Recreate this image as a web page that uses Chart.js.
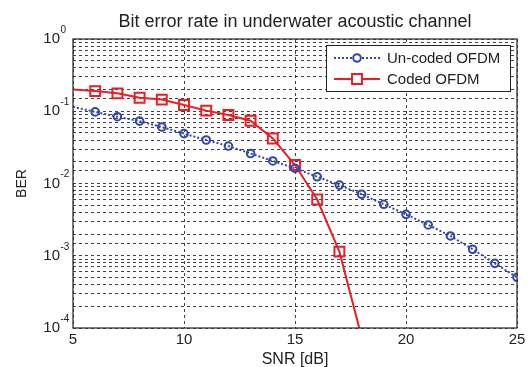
<!DOCTYPE html>
<html>
<head>
<meta charset="utf-8">
<script src="https://cdn.jsdelivr.net/npm/chart.js@4.4.1/dist/chart.umd.min.js"></script>
<style>
  html, body { margin: 0; padding: 0; background: #fff; }
  #wrap { width: 529px; height: 367px; }
</style>
</head>
<body>
<div id="wrap"><canvas id="ber-chart"></canvas></div>
<script>
// SNR values in dB
const snr = [5, 6, 7, 8, 9, 10, 11, 12, 13, 14, 15, 16, 17, 18, 19, 20, 21, 22, 23, 24, 25];
// BER
const uncodedBer = [0.115, 0.098, 0.084, 0.073, 0.0605, 0.049, 0.040, 0.033, 0.026, 0.0205, 0.0162,
  0.0124, 0.0095, 0.0071, 0.00515, 0.00374, 0.00267, 0.00188, 0.00123, 0.000785, 0.000503];
const codedBer = [0.20, 0.19, 0.177, 0.154, 0.145, 0.122, 0.102, 0.0887, 0.074, 0.042, 0.018,
  0.0060, 0.00114, 0.000075];
const yTickExps = [0, -1, -2, -3, -4];
const xTicks = [5, 10, 15, 20, 25];
const seriesNames = ['Un-coded OFDM', 'Coded OFDM'];
const chartTitle = 'Bit error rate in underwater acoustic channel';

const FONT = '"Liberation Sans", Arial, sans-serif';

function toPoints(ys) {
  return ys.map((v, i) => ({ x: snr[i], y: v }));
}

// draws 10^n labels with a raised exponent, like matlab does
// and the title centred over the axes
const logLabels = {
  id: 'logLabels',
  afterDraw(chart) {
    const c = chart.ctx;
    const y = chart.scales.y;
    const a = chart.chartArea;
    c.save();
    c.fillStyle = '#222';
    c.textBaseline = 'middle';
    yTickExps.forEach(e => {
      const py = y.getPixelForValue(Math.pow(10, e));
      c.font = '15px ' + FONT;
      c.textAlign = 'right';
      c.fillText('10', 60, py);
      c.font = '10px ' + FONT;
      c.textAlign = 'left';
      c.fillText(String(e), 60.5, py - 9);
    });
    c.font = '18px ' + FONT;
    c.textAlign = 'center';
    c.fillText(chartTitle, (a.left + a.right) / 2, 22);
    c.restore();
  }
};

// axes box + legend
const frameAndLegend = {
  id: 'frameAndLegend',
  afterDatasetsDraw(chart) {
    const c = chart.ctx;
    const a = chart.chartArea;
    c.save();
    c.strokeStyle = '#333';
    c.lineWidth = 1.3;
    c.strokeRect(a.left, a.top, a.right - a.left, a.bottom - a.top);

    // legend box
    const bx = 326, by = 45, bw = 184, bh = 46;
    c.fillStyle = '#fff';
    c.fillRect(bx, by, bw, bh);
    c.strokeStyle = '#222';
    c.lineWidth = 1;
    c.strokeRect(bx + 0.5, by + 0.5, bw, bh);

    chart.data.datasets.forEach((ds, i) => {
      const ly = 58 + i * 21;
      c.strokeStyle = ds.borderColor;
      c.lineWidth = ds.borderWidth;
      c.setLineDash(ds.borderDash || []);
      c.beginPath();
      c.moveTo(334, ly);
      c.lineTo(380, ly);
      c.stroke();
      c.setLineDash([]);
      c.fillStyle = '#fff';
      c.strokeStyle = ds.borderColor;
      c.lineWidth = ds.pointBorderWidth;
      Chart.helpers.drawPoint(c, {
        pointStyle: ds.pointStyle,
        radius: ds.legendRadius,
        borderWidth: ds.pointBorderWidth,
        rotation: 0
      }, 357, ly);
      c.fillStyle = '#222';
      c.font = '15px ' + FONT;
      c.textAlign = 'left';
      c.textBaseline = 'middle';
      c.fillText(ds.label, 387, ly + 1);
    });
    c.restore();
  }
};

const blue = '#2f47ad';
const red = '#ee1d23';

new Chart(document.getElementById('ber-chart'), {
  type: 'line',
  data: {
    datasets: [{
      label: seriesNames[0],
      data: toPoints(uncodedBer),
      borderColor: blue,
      borderWidth: 2,
      borderDash: [2, 2],
      pointStyle: 'circle',
      pointRadius: ctx => (ctx.raw && ctx.raw.x < 6 ? 0 : 3.8),
      pointBorderWidth: 2,
      pointBorderColor: blue,
      pointBackgroundColor: 'rgba(0,0,0,0)',
      legendRadius: 3.8,
      tension: 0
    }, {
      label: seriesNames[1],
      data: toPoints(codedBer),
      borderColor: red,
      borderWidth: 2,
      pointStyle: 'rect',
      pointRadius: ctx => (ctx.raw && ctx.raw.x < 6 ? 0 : 7),
      pointBorderWidth: 2,
      pointBorderColor: red,
      pointBackgroundColor: 'rgba(0,0,0,0)',
      legendRadius: 7,
      tension: 0
    }]
  },
  options: {
    responsive: true,
    maintainAspectRatio: false,
    animation: false,
    layout: { padding: { left: 0, right: 12, top: 39, bottom: 0 } },
    plugins: {
      legend: { display: false },
      tooltip: { enabled: false },
      title: { display: false }
    },
    scales: {
      x: {
        type: 'linear',
        min: 5,
        max: 25,
        afterBuildTicks: s => { s.ticks = xTicks.map(v => ({ value: v })); },
        afterFit: s => { s.height = 39; },
        ticks: {
          color: '#222',
          font: { family: FONT, size: 15 },
          padding: 3,
          maxRotation: 0
        },
        grid: { color: '#111', lineWidth: 0.8, drawTicks: false, tickLength: 0 },
        border: { display: false, dash: [3, 3] },
        title: {
          display: true,
          text: 'SNR [dB]',
          color: '#222',
          font: { family: FONT, size: 16 },
          padding: { top: 0, bottom: -2.5 }
        }
      },
      y: {
        type: 'logarithmic',
        min: 1e-4,
        max: 1,
        afterFit: s => { s.width = 73; },
        ticks: { display: false, autoSkip: false },
        grid: { color: '#111', lineWidth: 0.8, drawTicks: false, tickLength: 0 },
        border: { display: false, dash: [3, 3] },
        title: {
          display: true,
          text: 'BER',
          color: '#222',
          font: { family: FONT, size: 14 },
          padding: { top: 14, bottom: 0 }
        }
      }
    }
  },
  plugins: [logLabels, frameAndLegend]
});
</script>
</body>
</html>
